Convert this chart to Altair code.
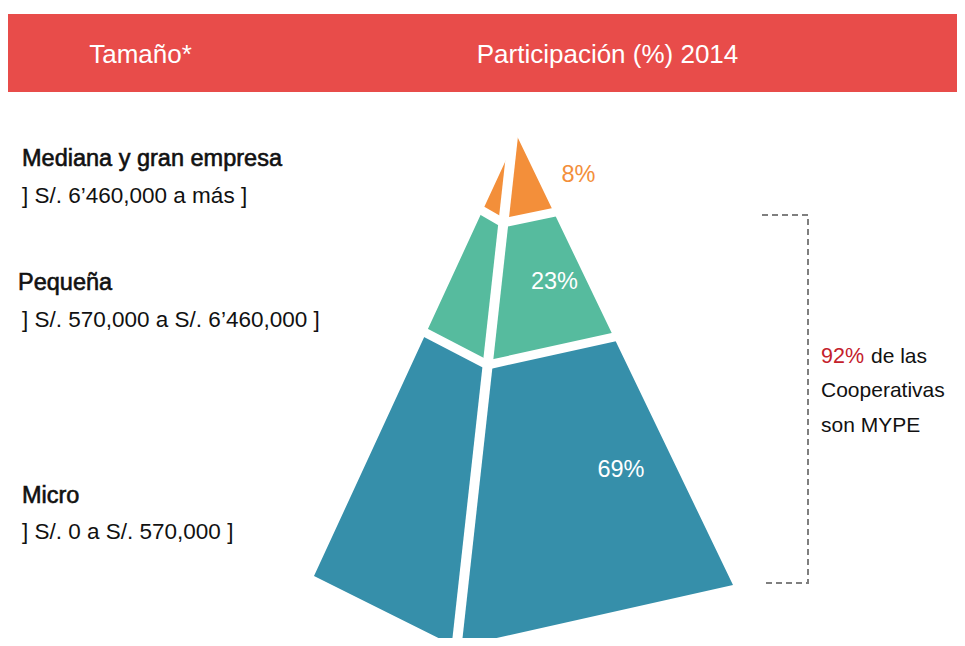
import altair as alt
import pandas as pd

# ---------------- data ----------------
tamanos = ["Mediana y gran empresa", "Pequeña", "Micro"]
rangos = ["] S/. 6’460,000 a más ]", "] S/. 570,000 a S/. 6’460,000 ]", "] S/. 0 a S/. 570,000  ]"]
participacion = [8, 23, 69]
colores = ["#F38F3A", "#56BB9E", "#368FAA"]
etiqueta_color = ["#F38F3A", "#FFFFFF", "#FFFFFF"]
encabezados = ["Tamaño*", "Participación (%) 2014"]
mype_total = 92
nota = ["de las", "Cooperativas", "son MYPE"]

# ---------------- layout (page pixels, shifted by the 8px page margin) ----------------
W, H = 949, 630
OX, OY = 8, 8
FONT = "Liberation Sans"


def P(x, y):
    return (x - OX, y - OY)


def lerp(a, b, t):
    return (a[0] + (b[0] - a[0]) * t, a[1] + (b[1] - a[1]) * t)


apex = P(517, 136)
front_top = P(513, 136)
front_bottom = P(456.5, 647)
base_left = P(314, 576)
base_right = P(733, 585)
cuts = [0.0, 0.17, 0.448, 1.0]

proj = dict(type="identity", scale=1, translate=[0, 0])

# pyramid bands
features = []
for i, (name, share) in enumerate(zip(tamanos, participacion)):
    ta, tb = cuts[i], cuts[i + 1]
    pts = [lerp(apex, base_left, ta), lerp(front_top, front_bottom, ta), lerp(apex, base_right, ta),
           lerp(apex, base_right, tb), lerp(front_top, front_bottom, tb), lerp(apex, base_left, tb)]
    ring = [list(p) for p in pts] + [list(pts[0])]
    features.append({"type": "Feature",
                     "geometry": {"type": "Polygon", "coordinates": [ring]},
                     "properties": {"tamano": name, "share": share}})

bands = alt.Chart(alt.Data(values=features)).mark_geoshape(strokeWidth=0).encode(
    color=alt.Color("properties.tamano:N", scale=alt.Scale(domain=tamanos, range=colores), legend=None)
).project(**proj)

# header band
x0, y0 = P(8, 14)
x1, y1 = P(965, 92)
header_feat = [{"type": "Feature", "properties": {},
                "geometry": {"type": "Polygon",
                             "coordinates": [[[x0, y0], [x1, y0], [x1, y1], [x0, y1], [x0, y0]]]}}]
header = alt.Chart(alt.Data(values=header_feat)).mark_geoshape(
    fill="#E84C4A", strokeWidth=0).project(**proj)

# white gaps
rows = []
a = lerp(front_top, front_bottom, -0.05)
b = lerp(front_top, front_bottom, 1.05)
gap_front = pd.DataFrame([{"x": a[0], "y": a[1], "o": 0}, {"x": b[0], "y": b[1], "o": 1}])
for k, t in enumerate(cuts[1:-1]):
    L = lerp(apex, base_left, t)
    F = lerp(front_top, front_bottom, t)
    R = lerp(apex, base_right, t)
    Le = lerp(F, L, 1.15)
    Re = lerp(F, R, 1.15)
    for j, p in enumerate([Le, L, F, R, Re]):
        rows.append({"x": p[0], "y": p[1], "o": j, "g": k})
gap_cuts = pd.DataFrame(rows)

front_line = alt.Chart(gap_front).mark_line(color="white", strokeWidth=10, strokeCap="butt").encode(
    longitude="x:Q", latitude="y:Q", order="o:Q").project(**proj)
cut_lines = alt.Chart(gap_cuts).mark_line(color="white", strokeWidth=9, strokeCap="butt").encode(
    longitude="x:Q", latitude="y:Q", order="o:Q", detail="g:N").project(**proj)

# dashed bracket
br = [P(762, 215), P(808, 215), P(808, 583), P(762, 583)]
bracket = alt.Chart(pd.DataFrame([{"x": p[0], "y": p[1], "o": i} for i, p in enumerate(br)])).mark_line(
    color="#7F7F7F", strokeWidth=2, strokeDash=[6, 4]).encode(
    longitude="x:Q", latitude="y:Q", order="o:Q").project(**proj)


def text_layer(df, **mk):
    return alt.Chart(df).mark_text(font=FONT, **mk).encode(
        longitude="x:Q", latitude="y:Q", text="t:N",
        color=alt.Color("c:N", scale=None)).project(**proj)


hx = [P(140.5, 63), P(607.5, 63)]
head_txt = text_layer(pd.DataFrame([{"x": p[0], "y": p[1], "t": s, "c": "white"} for p, s in zip(hx, encabezados)]),
                      fontSize=26, align="center", baseline="alphabetic")

title_pos = [P(22, 166), P(18, 290), P(22, 503)]
range_pos = [P(22, 203), P(22, 327), P(22, 539)]
titles = text_layer(pd.DataFrame([{"x": p[0], "y": p[1], "t": s, "c": "#111111"} for p, s in zip(title_pos, tamanos)]),
                    fontSize=23.5, align="left", baseline="alphabetic", stroke="#111111", strokeWidth=0.6)
ranges_txt = text_layer(pd.DataFrame([{"x": p[0], "y": p[1], "t": s, "c": "#111111"} for p, s in zip(range_pos, rangos)]),
                        fontSize=22.5, align="left", baseline="alphabetic")

pct_pos = [P(578.5, 175), P(554.5, 282), P(621, 470)]
pcts = text_layer(pd.DataFrame([{"x": p[0], "y": p[1], "t": f"{v}%", "c": c}
                                for p, v, c in zip(pct_pos, participacion, etiqueta_color)]),
                  fontSize=23.5, align="center", baseline="middle")

NX = 821
red_pos = P(NX, 362.5)
red_txt = text_layer(pd.DataFrame([{"x": red_pos[0], "y": red_pos[1], "t": f"{mype_total}%", "c": "#C4212B"}]),
                     fontSize=21.5, align="left", baseline="alphabetic")
note_pos = [P(NX + 50, 362.5), P(NX, 397), P(NX, 432)]
note_txt = text_layer(pd.DataFrame([{"x": p[0], "y": p[1], "t": s, "c": "#111111"} for p, s in zip(note_pos, nota)]),
                      fontSize=21, align="left", baseline="alphabetic")

chart = alt.layer(header, bands, front_line, cut_lines, bracket, head_txt, titles, ranges_txt, pcts,
                  red_txt, note_txt).properties(
    width=W, height=H, autosize=alt.AutoSizeParams(type="none"), padding=0
).configure_view(stroke=None)

chart.save("out.html", embed_options={"renderer": "svg", "actions": False})
